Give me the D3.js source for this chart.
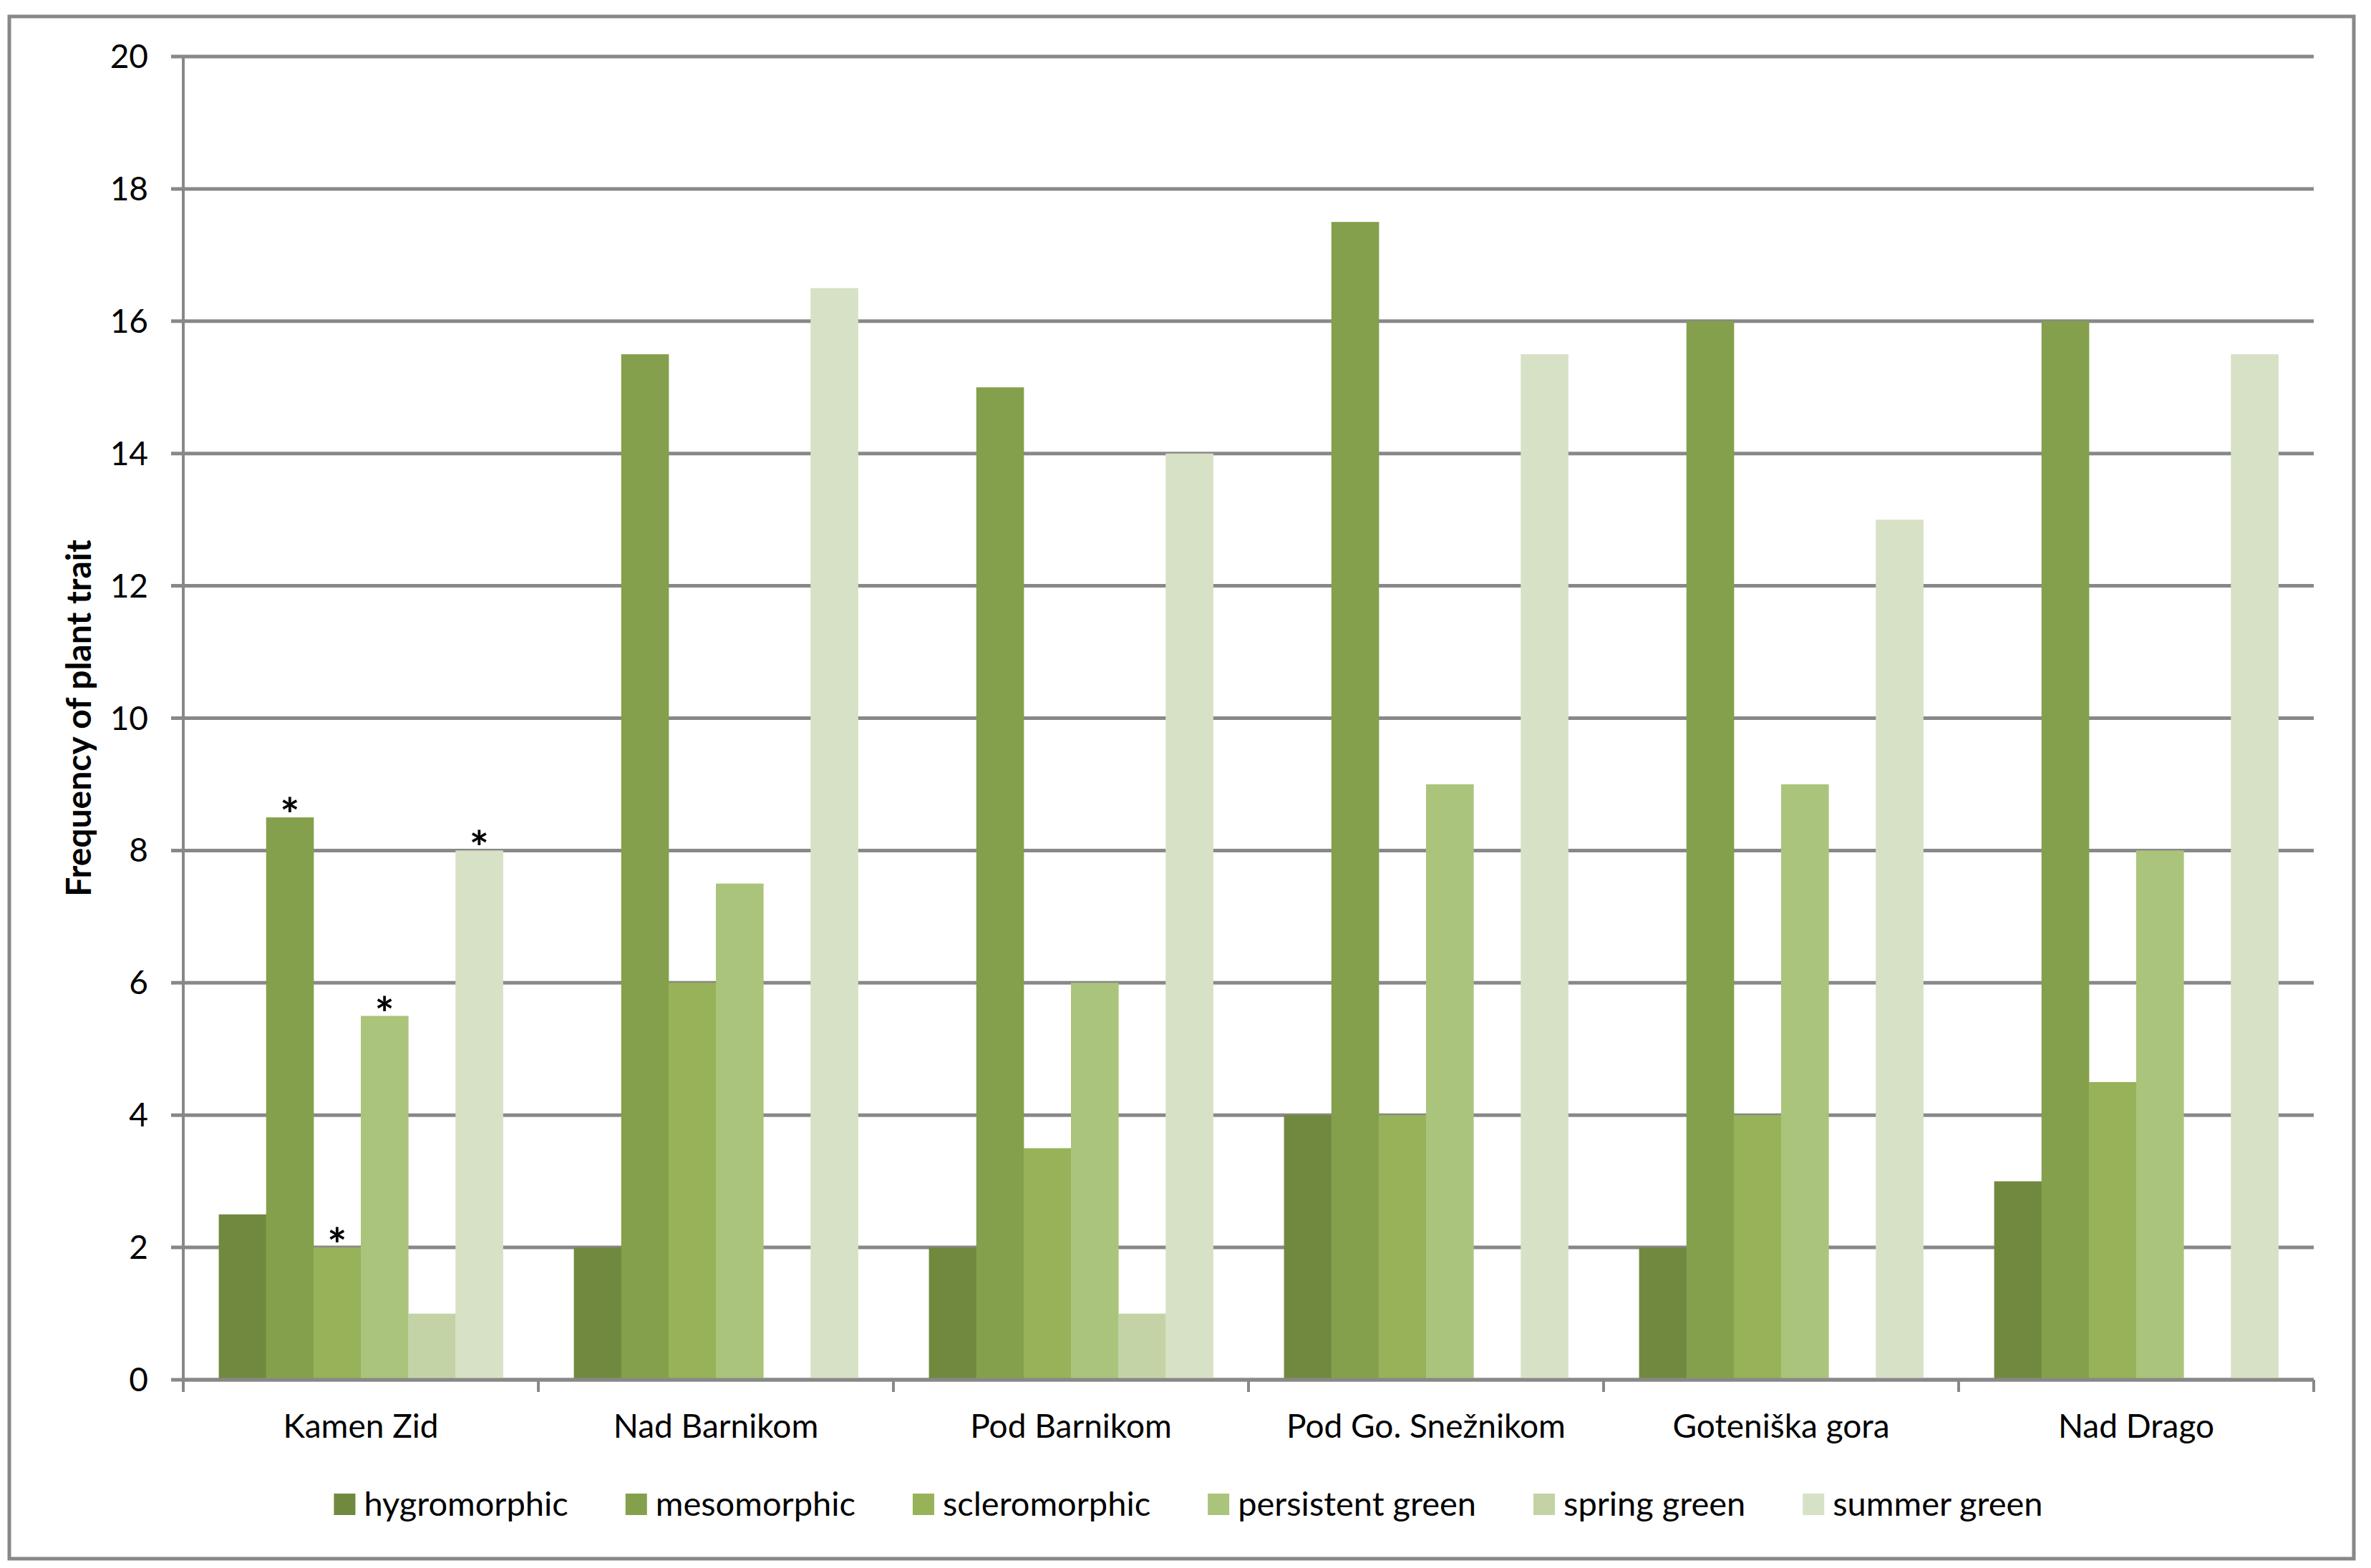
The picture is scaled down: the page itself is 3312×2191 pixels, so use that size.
<!DOCTYPE html>
<html lang="en">
<head>
<meta charset="UTF-8">
<title>Frequency of plant trait</title>
<script src="https://cdn.jsdelivr.net/npm/d3@7/dist/d3.min.js"></script>
<style>
  body { margin: 0; background: #fff; }
  text { font-family: Lato, "Open Sans", sans-serif; fill: #000; }
</style>
</head>
<body>
<svg id="chart" width="3312" height="2191"></svg>
<script>
// sites along the x axis
const sites = ["Kamen Zid", "Nad Barnikom", "Pod Barnikom", "Pod Go. Snežnikom", "Goteniška gora", "Nad Drago"];
const traits = ["hygromorphic", "mesomorphic", "scleromorphic", "persistent green", "spring green", "summer green"];
const traitColors = ["#71893f", "#84a04c", "#97b259", "#abc47b", "#c3d3a5", "#d7e1c5"];

// one array per trait, same order as sites
const hygromorphic    = [2.5, 2, 2, 4, 2, 3];
const mesomorphic     = [8.5, 15.5, 15, 17.5, 16, 16];
const scleromorphic   = [2, 6, 3.5, 4, 4, 4.5];
const persistentGreen = [5.5, 7.5, 6, 9, 9, 8];
const springGreen     = [1, 0, 1, 0, 0, 0];
const summerGreen     = [8, 16.5, 14, 15.5, 13, 15.5];

// significance marks (site index, trait index)
const starMarks = [[0, 1], [0, 2], [0, 3], [0, 5]];

const yTicks = [0, 2, 4, 6, 8, 10, 12, 14, 16, 18, 20];

const series = [hygromorphic, mesomorphic, scleromorphic, persistentGreen, springGreen, summerGreen];

const svg = d3.select("#chart");
const grey = "#888888";

// outer frame
svg.append("rect")
  .attr("x", 13).attr("y", 23)
  .attr("width", 3275).attr("height", 2155)
  .attr("fill", "none").attr("stroke", grey).attr("stroke-width", 5);

const plotL = 256, plotR = 3232, plotT = 79, plotB = 1928;

const y = d3.scaleLinear().domain([0, 20]).range([plotB, plotT]);
const x0 = d3.scaleBand().domain(sites).range([plotL, plotR]).paddingInner(0.2).paddingOuter(0.1);
const x1 = d3.scaleBand().domain(traits).range([0, x0.bandwidth()]);

// gridlines + y ticks
svg.append("g").selectAll("line").data(yTicks).join("line")
  .attr("x1", plotL - 17).attr("x2", plotR)
  .attr("y1", d => y(d)).attr("y2", d => y(d))
  .attr("stroke", grey).attr("stroke-width", 5);

svg.append("g").selectAll("text").data(yTicks).join("text")
  .attr("x", 207).attr("y", d => y(d) + 16)
  .attr("text-anchor", "end")
  .attr("font-size", 46)
  .text(d => d);

// bars
const groups = svg.append("g").selectAll("g").data(sites).join("g")
  .attr("transform", d => `translate(${x0(d)},0)`);

groups.selectAll("rect")
  .data((s, i) => traits.map((t, k) => ({ t, v: series[k][i] })))
  .join("rect")
  .attr("x", d => x1(d.t))
  .attr("width", x1.bandwidth() + 0.5)
  .attr("y", d => y(d.v))
  .attr("height", d => plotB - y(d.v))
  .attr("fill", (d, k) => traitColors[k]);

// asterisks
svg.append("g").selectAll("text").data(starMarks).join("text")
  .attr("x", d => x0(sites[d[0]]) + x1(traits[d[1]]) + x1.bandwidth() / 2)
  .attr("y", d => y(series[d[1]][d[0]]) + 20)
  .attr("text-anchor", "middle")
  .attr("font-size", 64)
  .attr("font-weight", "bold")
  .text("*");

// y axis line
svg.append("line")
  .attr("x1", plotL).attr("x2", plotL)
  .attr("y1", plotT).attr("y2", plotB)
  .attr("stroke", grey).attr("stroke-width", 4);

// x axis with boundary ticks
svg.append("line")
  .attr("x1", plotL).attr("x2", plotR)
  .attr("y1", plotB).attr("y2", plotB)
  .attr("stroke", grey).attr("stroke-width", 5);

const bounds = sites.map(s => x0(s) - x0.step() * 0.1).concat([plotR]);
svg.append("g").selectAll("line").data(bounds).join("line")
  .attr("x1", d => d).attr("x2", d => d)
  .attr("y1", plotB).attr("y2", plotB + 17)
  .attr("stroke", grey).attr("stroke-width", 4);

svg.append("g").selectAll("text").data(sites).join("text")
  .attr("x", d => x0(d) + x0.bandwidth() / 2)
  .attr("y", 2009)
  .attr("text-anchor", "middle")
  .attr("font-size", 46)
  .text(d => d);

// y title
svg.append("text")
  .attr("transform", `translate(127,${(plotT + plotB) / 2}) rotate(-90)`)
  .attr("text-anchor", "middle")
  .attr("font-size", 48)
  .attr("font-weight", "bold")
  .text("Frequency of plant trait");

// legend
const legend = svg.append("g");
let lx = 0;
traits.forEach((t, k) => {
  const item = legend.append("g").attr("transform", `translate(${lx},0)`);
  item.append("rect").attr("x", 0).attr("y", 2087).attr("width", 30).attr("height", 30)
    .attr("fill", traitColors[k]);
  const txt = item.append("text").attr("x", 42).attr("y", 2118).attr("font-size", 47).text(t);
  lx += 42 + txt.node().getComputedTextLength() + 80;
});
const legendW = lx - 80;
legend.attr("transform", `translate(${1660 - legendW / 2},0)`);
</script>
</body>
</html>
